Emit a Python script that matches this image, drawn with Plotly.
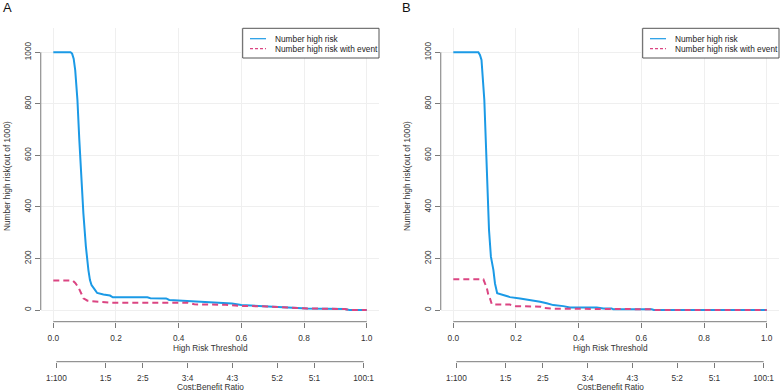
import plotly.graph_objects as go

# ---------------- data ----------------
thr_A_total = [0, 0.055, 0.06, 0.065, 0.07, 0.077, 0.083, 0.088, 0.092, 0.096, 0.104, 0.108,
               0.112, 0.117, 0.122, 0.133, 0.14, 0.16, 0.181, 0.19, 0.3, 0.31, 0.36, 0.37,
               0.41, 0.47, 0.52, 0.57, 0.6, 0.68, 0.72, 0.8, 0.81, 0.93, 0.945, 1.0]
nhr_A_total = [1000, 1000, 995, 975, 930, 815, 660, 530, 430, 375, 246, 195,
               155, 116, 97, 78, 66, 60, 56, 49, 49, 46, 45, 39,
               36, 32, 29, 25, 19, 15, 12, 8, 6, 4, 0, 0]

thr_A_event = [0, 0.062, 0.07, 0.08, 0.09, 0.096, 0.102, 0.109, 0.117, 0.16, 0.186, 0.43,
               0.45, 0.55, 0.6, 0.68, 0.72, 0.8, 0.81, 0.93, 0.945, 1.0]
nhr_A_event = [114, 114, 105, 88, 62, 45, 41, 36, 35, 31, 28, 28,
               22, 20, 16, 14, 12, 8, 6, 4, 0, 0]

thr_B_total = [0, 0.08, 0.085, 0.09, 0.099, 0.106, 0.11, 0.114, 0.12, 0.128, 0.133, 0.14,
               0.17, 0.181, 0.213, 0.245, 0.277, 0.298, 0.319, 0.351, 0.372, 0.458, 0.479,
               0.505, 0.51, 0.633, 0.64, 1.0]
nhr_B_total = [1000, 1000, 990, 970, 815, 595, 470, 310, 207, 155, 103, 65,
               54, 50, 45, 39, 32, 26, 19, 15, 10, 10, 6,
               6, 3, 3, 0, 0]

thr_B_event = [0, 0.096, 0.101, 0.106, 0.112, 0.117, 0.123, 0.18, 0.2, 0.28, 0.29, 0.32,
               0.48, 0.63, 0.64, 1.0]
nhr_B_event = [119, 119, 103, 90, 58, 45, 22, 21, 15, 13, 8, 5,
               4, 3, 0, 0]

x_ticks = [0, 0.2, 0.4, 0.6, 0.8, 1.0]
y_ticks = [0, 200, 400, 600, 800, 1000]
cb_labels = ["1:100", "1:5", "2:5", "3:4", "4:3", "5:2", "5:1", "100:1"]
cb_cost = [1, 1, 2, 3, 4, 5, 5, 100]
cb_benefit = [100, 5, 5, 4, 3, 2, 1, 1]
cb_ticks = [c / (c + b) for c, b in zip(cb_cost, cb_benefit)]

series_names = ["Number high risk", "Number high risk with event"]
panel_labels = ["A", "B"]

# ---------------- styling / layout ----------------
W, H = 780, 391
BLUE = "#1b9ae6"
PINK = "#db4582"
AXC = "#7a7a7a"
TXT = "#333333"
GRID = "#efefef"
FONT = "Liberation Sans, Arial, Helvetica, sans-serif"
FS = 8.3


def fx(px):
    return px / W


def fy(py):
    return 1 - py / H


# pixel geometry (y=0 at 310px, y=1000 at 52.3px; x=0 at 53.3px, x=1 at 366.7px)
ppu_y = (310 - 52.3) / 1000
ppu_x = 366.7 - 53.3
top_px, bot_px = 28.3, 321.7
y_range = [-(bot_px - 310) / ppu_y, 1000 + (52.3 - top_px) / ppu_y]
x_range = [-0.04, 1.04]
y_dom = [fy(bot_px), fy(top_px)]
offsets = [0, 400]

fig = go.Figure()

panels = [
    (thr_A_total, nhr_A_total, thr_A_event, nhr_A_event),
    (thr_B_total, nhr_B_total, thr_B_event, nhr_B_event),
]

layout = dict(
    width=W, height=H, margin=dict(l=0, r=0, t=0, b=0),
    plot_bgcolor="white", paper_bgcolor="white", showlegend=False,
    font=dict(family=FONT, size=FS, color=TXT),
)
shapes = []
annotations = []

for i, (tx, ty, ex, ey) in enumerate(panels):
    off = offsets[i]
    xa = "x" if i == 0 else "x2"
    ya = "y" if i == 0 else "y2"
    xcb = "x3" if i == 0 else "x4"
    left_px = 53.3 + off + x_range[0] * ppu_x
    right_px = 53.3 + off + x_range[1] * ppu_x
    dom = [fx(left_px), fx(right_px)]

    fig.add_trace(go.Scatter(x=tx, y=ty, mode="lines", name=series_names[0],
                             line=dict(color=BLUE, width=2), xaxis=xa, yaxis=ya))
    fig.add_trace(go.Scatter(x=ex, y=ey, mode="lines", name=series_names[1],
                             line=dict(color=PINK, width=2, dash="6px,4px"), xaxis=xa, yaxis=ya))
    fig.add_trace(go.Scatter(x=[], y=[], xaxis=xcb, yaxis=ya, showlegend=False, hoverinfo="skip"))

    k = "" if i == 0 else "2"
    kc = "3" if i == 0 else "4"
    layout["xaxis" + k] = dict(
        domain=dom, range=x_range, anchor=ya, tickvals=x_ticks, tickformat=".1f",
        ticks="outside", ticklen=5, tickcolor=AXC, tickwidth=1, showline=False,
        showgrid=True, gridcolor=GRID, gridwidth=1, zeroline=False,
        tickfont=dict(size=FS, color=TXT), ticklabelstandoff=3,
    )
    layout["yaxis" + k] = dict(
        domain=y_dom, range=y_range, anchor=xa, tickvals=y_ticks, tickangle=-90,
        ticks="outside", ticklen=5, tickcolor=AXC, tickwidth=1, showline=False,
        showgrid=True, gridcolor=GRID, gridwidth=1, zeroline=False,
        tickfont=dict(size=FS, color=TXT),
    )
    layout["xaxis" + kc] = dict(
        domain=dom, range=x_range, overlaying=xa, anchor="free", position=fy(361.7),
        side="bottom", tickvals=cb_ticks, ticktext=cb_labels,
        ticks="outside", ticklen=5, tickcolor=AXC, tickwidth=1, showline=False,
        showgrid=False, zeroline=False, tickfont=dict(size=FS, color=TXT),
        ticklabelstandoff=3,
    )

    # axis lines (R-style, spanning only the tick range)
    shapes.append(dict(type="line", xref=xa, yref="paper", x0=x_ticks[0], x1=x_ticks[-1],
                       y0=y_dom[0], y1=y_dom[0], line=dict(color=AXC, width=1)))
    shapes.append(dict(type="line", xref="paper", yref=ya, x0=dom[0], x1=dom[0],
                       y0=y_ticks[0], y1=y_ticks[-1], line=dict(color=AXC, width=1)))
    shapes.append(dict(type="line", xref=xa, yref="paper", x0=cb_ticks[0], x1=cb_ticks[-1],
                       y0=fy(361.7), y1=fy(361.7), line=dict(color=AXC, width=1)))

    # axis titles
    annotations.append(dict(text="High Risk Threshold", xref=xa, yref="paper", x=0.5, y=fy(348),
                            showarrow=False, xanchor="center", yanchor="middle",
                            font=dict(size=FS, color=TXT)))
    annotations.append(dict(text="Cost:Benefit Ratio", xref=xa, yref="paper", x=0.5, y=fy(386.5),
                            showarrow=False, xanchor="center", yanchor="middle",
                            font=dict(size=FS, color=TXT)))
    annotations.append(dict(text="Number high risk(out of 1000)", xref="paper", yref="paper",
                            x=fx(7 + off), y=fy(176), textangle=-90, showarrow=False,
                            xanchor="center", yanchor="middle", font=dict(size=FS, color=TXT)))
    annotations.append(dict(text=panel_labels[i], xref="paper", yref="paper",
                            x=fx(0.5 + off), y=fy(7.3), showarrow=False, xanchor="left",
                            yanchor="middle", font=dict(size=13, color="#111")))

    # legend box
    lx0, lx1 = 242.7 + off, 379 + off
    shapes.append(dict(type="rect", xref="paper", yref="paper", x0=fx(lx0), x1=fx(lx1),
                       y0=fy(58), y1=fy(28.3), line=dict(color="#555", width=1),
                       fillcolor="white", layer="above"))
    for j, (col, dash, yy) in enumerate([(BLUE, "solid", 38.7), (PINK, "3px,2px", 48.7)]):
        shapes.append(dict(type="line", xref="paper", yref="paper", x0=fx(250 + off),
                           x1=fx(266 + off), y0=fy(yy), y1=fy(yy),
                           line=dict(color=col, width=1.2, dash=dash), layer="above"))
        annotations.append(dict(text=series_names[j], xref="paper", yref="paper",
                                x=fx(272.5 + off), y=fy(yy), showarrow=False, xanchor="left",
                                yanchor="middle", font=dict(size=FS, color="#222")))

layout["shapes"] = shapes
layout["annotations"] = annotations
fig.update_layout(**layout)

fig.write_html("out.html")
